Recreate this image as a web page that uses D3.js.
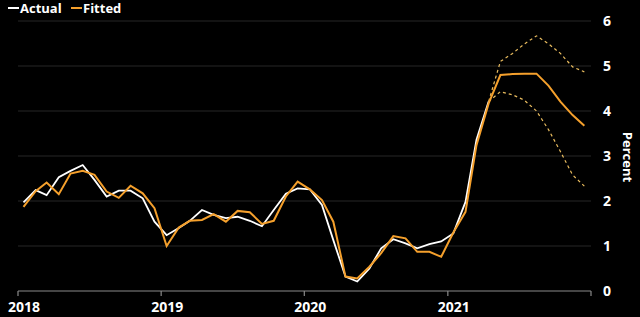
<!DOCTYPE html>
<html>
<head>
<meta charset="utf-8">
<script src="https://cdn.jsdelivr.net/npm/d3@7"></script>
<style>
  html, body { margin: 0; padding: 0; background: #000; }
  svg { display: block; }
  text { font-family: "Open Sans", sans-serif; font-weight: 700; fill: #fff; }
</style>
</head>
<body>
<svg id="chart" width="640" height="317"></svg>
<script>
// monthly observations, Jan 2018 .. Dec 2021 (plotted mid-month)
const actual = [1.97, 2.24, 2.13, 2.53, 2.67, 2.80, 2.47, 2.10, 2.23, 2.23, 2.06, 1.54,
                1.24, 1.40, 1.56, 1.80, 1.69, 1.62, 1.65, 1.56, 1.44, 1.80, 2.16, 2.28,
                2.26, 1.91, 1.13, 0.32, 0.21, 0.50, 0.95, 1.15, 1.06, 0.95, 1.04, 1.10,
                1.28, 1.98, 3.36, 4.21];
const fitted = [1.87, 2.22, 2.41, 2.15, 2.61, 2.67, 2.58, 2.21, 2.07, 2.34, 2.17, 1.84,
                1.00, 1.41, 1.56, 1.58, 1.71, 1.54, 1.78, 1.75, 1.49, 1.56, 2.10, 2.43,
                2.26, 2.02, 1.54, 0.32, 0.28, 0.54, 0.84, 1.22, 1.17, 0.87, 0.87, 0.76,
                1.30, 1.76, 3.24, 4.17, 4.80, 4.82, 4.83, 4.83, 4.56, 4.21, 3.91, 3.67];
// forecast band, starting at Apr 2021 (index 39)
const bandStart = 39;
const upper = [4.21, 5.10, 5.28, 5.49, 5.67, 5.49, 5.28, 4.98, 4.87];
const lower = [4.21, 4.43, 4.36, 4.24, 4.00, 3.58, 3.10, 2.58, 2.33];
const yTicks = [0, 1, 2, 3, 4, 5, 6];
const xTicks = ["2018", "2019", "2020", "2021"];

const months = d3.timeMonth.range(new Date(2018, 0, 1), new Date(2022, 0, 1))
  .map(d => new Date(d.getFullYear(), d.getMonth(), 15));

const svg = d3.select("#chart");
const x = d3.scaleTime().domain([new Date(2018, 0, 1), new Date(2022, 0, 1)]).range([18, 591]);
const y = d3.scaleLinear().domain([0, 6]).range([291, 21]);

// gridlines
svg.append("g").selectAll("line").data(yTicks.filter(v => v > 0)).join("line")
  .attr("x1", 18).attr("x2", 591)
  .attr("y1", d => y(d)).attr("y2", d => y(d))
  .attr("stroke", "#272727").attr("stroke-width", 1);

// y labels on the right
svg.append("g").selectAll("text").data(yTicks).join("text")
  .attr("x", 603).attr("y", d => y(d)).attr("dy", "0.36em")
  .attr("font-size", 14).text(d => d);

svg.append("text")
  .attr("transform", "translate(623,157) rotate(90)")
  .attr("text-anchor", "middle").attr("font-size", 13).text("Percent");

// x axis
const xa = svg.append("g").attr("transform", `translate(0,${y(0)})`);
xa.append("line").attr("x1", 18).attr("x2", 591).attr("stroke", "#8a8a8a").attr("stroke-width", 1.2);
const tickDates = xTicks.map(t => new Date(+t, 0, 1)).concat([new Date(2022, 0, 1)]);
xa.selectAll("line.tick").data(tickDates).join("line").attr("class", "tick")
  .attr("x1", d => x(d)).attr("x2", d => x(d)).attr("y1", 0).attr("y2", 5)
  .attr("stroke", "#8a8a8a").attr("stroke-width", 1.2);
xa.selectAll("text").data(xTicks).join("text")
  .attr("x", d => x(new Date(+d, 0, 1)) + 6).attr("y", 21)
  .attr("text-anchor", "middle").attr("font-size", 14).text(d => d);

const line = d3.line().x(d => x(d[0])).y(d => y(d[1]));
const orange = "#f5a02c";

const band = arr => arr.map((v, i) => [months[bandStart + i], v]);
[upper, lower].forEach(b => {
  svg.append("path").attr("d", line(band(b)))
    .attr("fill", "none").attr("stroke", "#e8bb5e").attr("stroke-width", 1.2)
    .attr("stroke-dasharray", "3,3");
});

svg.append("path").attr("d", line(actual.map((v, i) => [months[i], v])))
  .attr("fill", "none").attr("stroke", "#fff").attr("stroke-width", 1.8);
svg.append("path").attr("d", line(fitted.map((v, i) => [months[i], v])))
  .attr("fill", "none").attr("stroke", orange).attr("stroke-width", 2);

// legend
const lg = svg.append("g");
lg.append("line").attr("x1", 8).attr("x2", 19).attr("y1", 8).attr("y2", 8).attr("stroke", "#fff").attr("stroke-width", 2);
lg.append("text").attr("x", 20).attr("y", 12.5).attr("font-size", 13).text("Actual");
lg.append("line").attr("x1", 71).attr("x2", 82).attr("y1", 8).attr("y2", 8).attr("stroke", orange).attr("stroke-width", 2);
lg.append("text").attr("x", 83).attr("y", 12.5).attr("font-size", 13).text("Fitted");
</script>
</body>
</html>
